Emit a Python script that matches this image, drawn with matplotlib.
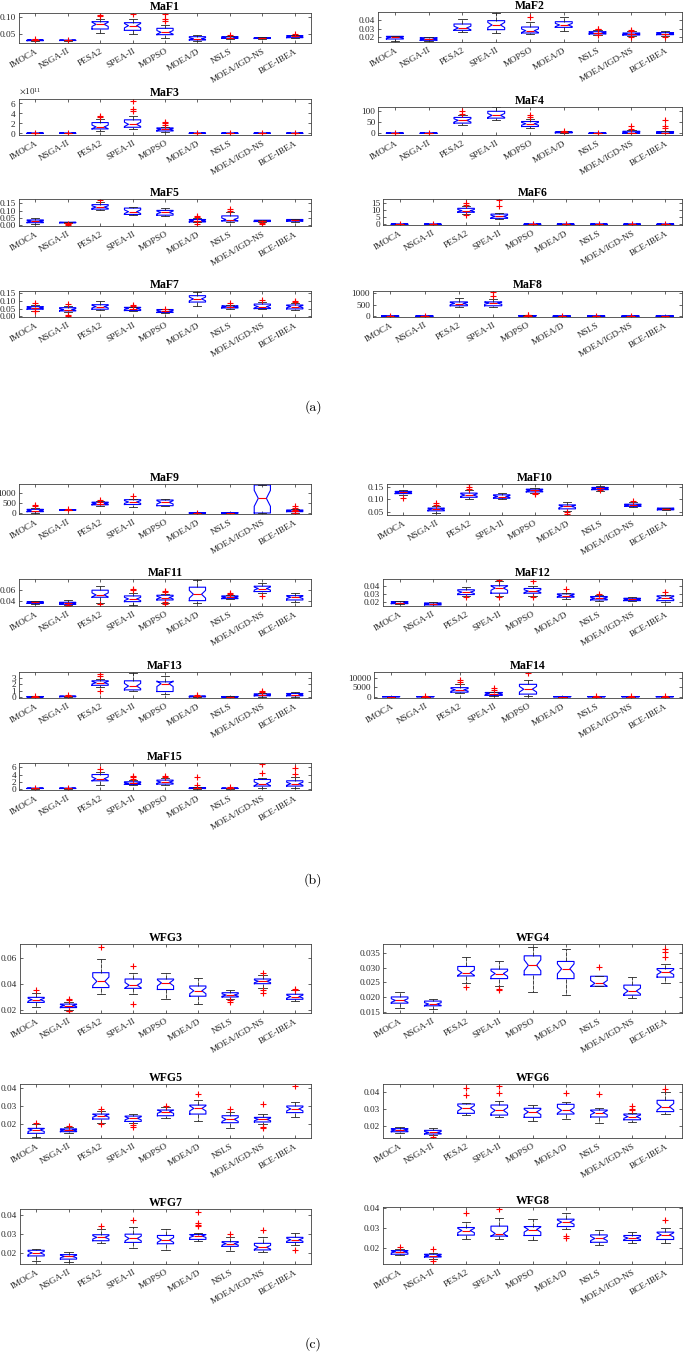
import matplotlib
matplotlib.use('Agg')
import matplotlib.pyplot as plt
import numpy as np

plt.rcParams['font.family'] = ['Liberation Serif', 'DejaVu Serif']
plt.rcParams['mathtext.fontset'] = 'stix'

ALGS = ['IMOCA', 'NSGA-II', 'PESA2', 'SPEA-II', 'MOPSO', 'MOEA/D', 'NSLS',
        'MOEA/IGD-NS', 'BCE-IBEA']
N_RUNS = 30

# each row: (lower whisker, q1, median, q3, upper whisker, [outliers])
MAF1 = [(0.028, 0.029, 0.030, 0.031, 0.032, [0.033]),
        (0.029, 0.0295, 0.030, 0.0305, 0.031, [0.031]),
        (0.053, 0.064, 0.078, 0.086, 0.095, [0.104, 0.106]),
        (0.050, 0.060, 0.074, 0.083, 0.093, [0.110]),
        (0.037, 0.047, 0.054, 0.066, 0.075, [0.088, 0.093, 0.108]),
        (0.027, 0.031, 0.035, 0.041, 0.047, []),
        (0.034, 0.036, 0.038, 0.041, 0.044, [0.047]),
        (0.034, 0.0355, 0.037, 0.038, 0.040, []),
        (0.036, 0.038, 0.042, 0.044, 0.047, [0.049])]
MAF2 = [(0.0158, 0.0181, 0.0200, 0.0211, 0.0219, []),
        (0.0155, 0.0166, 0.0181, 0.0196, 0.0204, []),
        (0.0260, 0.0279, 0.0306, 0.0351, 0.0408, []),
        (0.0249, 0.0287, 0.0340, 0.0389, 0.0475, []),
        (0.0238, 0.0249, 0.0275, 0.0317, 0.0374, [0.043]),
        (0.0275, 0.0313, 0.0340, 0.0377, 0.0430, []),
        (0.0223, 0.0238, 0.0249, 0.0264, 0.0280, [0.0223, 0.0295, 0.0300]),
        (0.0211, 0.0226, 0.0238, 0.0249, 0.0268, [0.0200, 0.0275, 0.0280]),
        (0.0211, 0.0230, 0.0242, 0.0253, 0.0272, [0.0200])]
MAF3_SCALE = 1e11
MAF3 = [(0.0, 0.005, 0.01, 0.02, 0.03, [0.04]),
        (0.0, 0.005, 0.01, 0.02, 0.03, [0.04]),
        (0.54, 0.88, 1.28, 2.15, 2.9, [3.3, 3.43]),
        (0.81, 1.21, 1.8, 2.7, 3.5, [4.5, 4.85, 6.5]),
        (0.2, 0.47, 0.8, 1.08, 1.35, [1.6, 2.0, 2.36]),
        (0.0, 0.005, 0.01, 0.02, 0.03, [0.04]),
        (0.0, 0.005, 0.01, 0.02, 0.03, [0.04]),
        (0.0, 0.005, 0.01, 0.02, 0.03, [0.04]),
        (0.0, 0.005, 0.01, 0.02, 0.03, [0.04])]
MAF4 = [(0.0, 0.2, 0.4, 0.6, 0.8, [1.0]),
        (0.0, 0.2, 0.4, 0.6, 0.8, [1.2]),
        (37, 45, 57, 70, 82, [87, 100]),
        (57, 67, 79, 97, 116, []),
        (25, 30, 42, 52, 63, [72, 79]),
        (0.5, 2, 4.5, 6, 9, [12]),
        (0.0, 0.2, 0.4, 0.6, 0.8, [1.0]),
        (0.3, 0.5, 3, 9, 15, [20, 30]),
        (0.3, 0.5, 3, 7.5, 12, [22, 30, 57])]
MAF5 = [(0.010, 0.016, 0.026, 0.035, 0.045, []),
        (0.014, 0.0155, 0.017, 0.019, 0.020, [0.003, 0.008]),
        (0.103, 0.110, 0.124, 0.141, 0.157, [0.175]),
        (0.068, 0.073, 0.092, 0.117, 0.124, []),
        (0.061, 0.068, 0.087, 0.101, 0.117, []),
        (0.019, 0.021, 0.030, 0.038, 0.045, [0.005, 0.054, 0.063]),
        (0.019, 0.028, 0.038, 0.063, 0.087, [0.100, 0.110]),
        (0.019, 0.024, 0.028, 0.033, 0.036, [0.005, 0.012]),
        (0.022, 0.026, 0.033, 0.038, 0.041, [])]
MAF6 = [(0.05, 0.1, 0.15, 0.2, 0.25, [0.35]),
        (0.05, 0.1, 0.15, 0.2, 0.25, [0.35]),
        (7.3, 8.6, 9.8, 11.4, 13.0, [6.4, 14.0, 15.2]),
        (3.6, 4.3, 5.7, 7.3, 8.0, [12.7, 17.5]),
        (0.05, 0.1, 0.15, 0.2, 0.25, [0.35]),
        (0.05, 0.1, 0.15, 0.2, 0.25, [0.45]),
        (0.05, 0.1, 0.15, 0.2, 0.25, [0.35]),
        (0.05, 0.1, 0.15, 0.2, 0.25, [0.35]),
        (0.05, 0.1, 0.15, 0.2, 0.25, [0.45])]
MAF7 = [(0.0375, 0.046, 0.054, 0.0625, 0.073, [0.032, 0.035, 0.0875]),
        (0.031, 0.035, 0.044, 0.056, 0.069, [0.002, 0.006, 0.077]),
        (0.042, 0.046, 0.0625, 0.075, 0.096, []),
        (0.035, 0.0375, 0.050, 0.058, 0.062, [0.067, 0.073]),
        (0.022, 0.025, 0.033, 0.044, 0.047, [0.050]),
        (0.067, 0.092, 0.112, 0.133, 0.156, []),
        (0.050, 0.054, 0.0625, 0.067, 0.073, [0.083]),
        (0.046, 0.050, 0.0625, 0.079, 0.094, [0.104]),
        (0.042, 0.048, 0.0625, 0.073, 0.083, [0.090, 0.096])]
MAF8 = [(0, 5, 10, 15, 20, [30]),
        (0, 5, 10, 15, 20, [30]),
        (416, 458, 555, 625, 778, []),
        (400, 458, 570, 625, 750, [875, 1055]),
        (5, 15, 25, 35, 45, [55, 60]),
        (0, 5, 10, 15, 20, [25]),
        (0, 5, 10, 15, 20, [25]),
        (0, 5, 10, 15, 20, [25]),
        (0, 5, 10, 15, 20, [])]
MAF9 = [(0, 66, 115, 180, 262, [328, 393]),
        (140, 145, 148, 160, 170, [197]),
        (360, 402, 467, 533, 600, [560, 622]),
        (311, 418, 541, 656, 705, [852]),
        (328, 360, 525, 639, 705, []),
        (0, 2, 4, 6, 8, [10]),
        (0, 2, 4, 6, 8, []),
        (0, 0, 721, 1377, 1377, []),
        (0, 66, 98, 148, 197, [20, 164, 262, 328])]
MAF10 = [(0.118, 0.123, 0.128, 0.132, 0.138, [0.107]),
         (0.046, 0.053, 0.060, 0.064, 0.071, [0.077, 0.084]),
         (0.101, 0.108, 0.117, 0.125, 0.136, [0.140, 0.150, 0.160]),
         (0.101, 0.104, 0.111, 0.118, 0.125, []),
         (0.127, 0.130, 0.136, 0.141, 0.144, [0.123, 0.125]),
         (0.054, 0.061, 0.071, 0.077, 0.088, [0.040, 0.047]),
         (0.135, 0.139, 0.144, 0.148, 0.152, [0.138]),
         (0.068, 0.071, 0.076, 0.080, 0.087, [0.093]),
         (0.056, 0.057, 0.061, 0.064, 0.065, [])]
MAF11 = [(0.034, 0.035, 0.037, 0.038, 0.039, []),
         (0.0315, 0.0333, 0.035, 0.037, 0.0406, [0.031, 0.0321]),
         (0.0364, 0.0461, 0.0503, 0.0588, 0.066, [0.0333]),
         (0.0321, 0.0382, 0.043, 0.0485, 0.0545, [0.0585, 0.0606]),
         (0.0364, 0.0412, 0.0455, 0.0497, 0.0527, [0.0333, 0.038, 0.0555, 0.0576]),
         (0.0364, 0.040, 0.0515, 0.0642, 0.0776, []),
         (0.0424, 0.0436, 0.046, 0.0485, 0.050, [0.0515, 0.0533]),
         (0.0533, 0.0564, 0.0618, 0.066, 0.071, [0.0485]),
         (0.038, 0.0412, 0.046, 0.049, 0.0533, [])]
MAF12 = [(0.0165, 0.0173, 0.0187, 0.0200, 0.0209, []),
         (0.0142, 0.0156, 0.0169, 0.0182, 0.0191, []),
         (0.0276, 0.0293, 0.0324, 0.0356, 0.0391, [0.0258]),
         (0.0280, 0.0311, 0.0378, 0.0409, 0.0467, [0.0267, 0.0480]),
         (0.0280, 0.0311, 0.0338, 0.0373, 0.0400, [0.0262, 0.0476]),
         (0.0240, 0.0258, 0.0280, 0.0302, 0.0320, [0.0364]),
         (0.0210, 0.0222, 0.0244, 0.0267, 0.0284, [0.0302]),
         (0.0205, 0.0213, 0.0230, 0.0244, 0.0260, []),
         (0.0196, 0.0213, 0.0249, 0.0276, 0.0289, [0.0333])]
MAF13 = [(0.0, 0.02, 0.05, 0.08, 0.1, [0.12]),
         (0.0, 0.05, 0.1, 0.15, 0.2, [0.25]),
         (1.54, 1.85, 2.26, 2.56, 2.77, [0.97, 3.33, 3.6]),
         (0.97, 1.13, 1.74, 2.56, 3.85, []),
         (0.5, 0.87, 2.1, 2.4, 3.28, []),
         (0.0, 0.03, 0.1, 0.15, 0.18, [0.2, 0.36]),
         (0.0, 0.02, 0.05, 0.08, 0.1, []),
         (0.05, 0.2, 0.3, 0.51, 0.6, [0.87, 1.02]),
         (0.05, 0.2, 0.4, 0.56, 0.77, [])]
MAF14 = [(0, 20, 50, 80, 100, []),
         (0, 20, 50, 80, 100, [150]),
         (1930, 2450, 3700, 4900, 6670, [8070, 8770]),
         (175, 700, 1580, 2280, 2630, [3680, 4560]),
         (175, 1400, 4040, 6670, 8770, [12980]),
         (0, 20, 50, 80, 100, []),
         (0, 20, 50, 80, 100, [150]),
         (0, 20, 50, 80, 100, [150]),
         (0, 20, 50, 80, 100, [150])]
MAF15 = [(0.0, 0.05, 0.1, 0.15, 0.2, [0.3]),
         (0.0, 0.05, 0.1, 0.15, 0.2, [0.25]),
         (1.12, 2.23, 2.8, 4.0, 4.65, [5.67]),
         (1.0, 1.2, 1.5, 1.95, 2.42, [2.8, 3.35, 3.72]),
         (0.93, 1.3, 1.86, 2.42, 2.98, [3.35, 3.72]),
         (0.0, 0.05, 0.1, 0.28, 0.4, [1.02, 3.26]),
         (0.0, 0.05, 0.1, 0.15, 0.2, [0.47]),
         (0.19, 0.74, 1.4, 2.6, 3.07, [4.47, 6.88]),
         (0.28, 0.74, 1.4, 2.23, 3.26, [4.1, 5.95])]
WFG3 = [(0.0221, 0.0258, 0.0279, 0.0297, 0.0327, [0.0355]),
        (0.0200, 0.0218, 0.0233, 0.0245, 0.0261, [0.0191, 0.0195, 0.0275, 0.0285]),
        (0.0324, 0.0373, 0.0421, 0.0488, 0.0594, [0.069]),
        (0.0321, 0.0367, 0.0391, 0.0439, 0.0485, [0.0248, 0.054]),
        (0.0285, 0.0358, 0.0409, 0.0439, 0.0488, []),
        (0.0242, 0.0306, 0.0348, 0.0385, 0.0445, []),
        (0.0282, 0.0300, 0.0315, 0.0333, 0.0355, [0.0261, 0.0273]),
        (0.0373, 0.0403, 0.0421, 0.0439, 0.0470, [0.0330, 0.0352, 0.0488]),
        (0.0267, 0.0282, 0.0303, 0.0321, 0.0352, [0.0355, 0.0358])]
WFG4 = [(0.0163, 0.0180, 0.0189, 0.0201, 0.0217, []),
        (0.0160, 0.0171, 0.0177, 0.0187, 0.0193, []),
        (0.0249, 0.0272, 0.0283, 0.0304, 0.0335, [0.0236]),
        (0.0237, 0.0263, 0.0280, 0.0295, 0.0321, [0.0225, 0.0229]),
        (0.0217, 0.0276, 0.0308, 0.0340, 0.0370, []),
        (0.0209, 0.0263, 0.0296, 0.0321, 0.0364, []),
        (0.0237, 0.0237, 0.0247, 0.0271, 0.0271, [0.0303]),
        (0.0197, 0.0207, 0.0221, 0.0241, 0.0269, []),
        (0.0247, 0.0268, 0.0285, 0.0297, 0.0311, [0.0336, 0.0354, 0.0364])]
WFG5 = [(0.0133, 0.0151, 0.0169, 0.0178, 0.0200, [0.0205]),
        (0.0151, 0.0160, 0.0169, 0.0175, 0.0187, [0.0193]),
        (0.0209, 0.0229, 0.0247, 0.0256, 0.0275, [0.0202, 0.0282]),
        (0.0210, 0.0216, 0.0233, 0.0245, 0.0256, [0.0187, 0.0196]),
        (0.0236, 0.0247, 0.0269, 0.0278, 0.0296, [0.0302]),
        (0.0218, 0.0256, 0.0287, 0.0305, 0.0333, [0.0365]),
        (0.0178, 0.0209, 0.0227, 0.0247, 0.0267, [0.0282]),
        (0.0202, 0.0213, 0.0227, 0.0238, 0.0255, [0.0178, 0.0187, 0.0309]),
        (0.0238, 0.0264, 0.0284, 0.0300, 0.0324, [0.0409])]
WFG6 = [(0.0160, 0.0169, 0.0179, 0.0187, 0.0194, []),
        (0.0150, 0.0156, 0.0165, 0.0177, 0.0188, [0.0140]),
        (0.0263, 0.0275, 0.0304, 0.0329, 0.0337, [0.0379, 0.0423]),
        (0.0254, 0.0265, 0.0292, 0.0323, 0.0344, [0.0394, 0.0433]),
        (0.0229, 0.0252, 0.0283, 0.0304, 0.0321, []),
        (0.0240, 0.0271, 0.0292, 0.0327, 0.0342, [0.0390]),
        (0.0221, 0.0254, 0.0279, 0.0294, 0.0308, [0.0385]),
        (0.0227, 0.0238, 0.0256, 0.0271, 0.0279, [0.0294, 0.0300, 0.0317]),
        (0.0271, 0.0285, 0.0313, 0.0350, 0.0400, [0.0413])]
WFG7 = [(0.0153, 0.0182, 0.0198, 0.0212, 0.0219, []),
        (0.0151, 0.0165, 0.0179, 0.0189, 0.0202, []),
        (0.0249, 0.0263, 0.0281, 0.0295, 0.0323, [0.0344]),
        (0.0223, 0.0254, 0.0275, 0.0298, 0.0337, [0.0372]),
        (0.0212, 0.0247, 0.0267, 0.0291, 0.0326, []),
        (0.0260, 0.0270, 0.0288, 0.0296, 0.0305, [0.0339, 0.0345, 0.0356, 0.0418]),
        (0.0207, 0.0233, 0.0247, 0.0258, 0.0284, [0.0298]),
        (0.0202, 0.0214, 0.0228, 0.0249, 0.0281, [0.0321]),
        (0.0240, 0.0254, 0.0268, 0.0281, 0.0305, [0.0214])]
WFG8 = [(0.0164, 0.0169, 0.0181, 0.0187, 0.0194, [0.0206]),
        (0.0145, 0.0155, 0.0162, 0.0169, 0.0174, [0.0134, 0.0196]),
        (0.0245, 0.0265, 0.0288, 0.0303, 0.0329, [0.0374]),
        (0.0243, 0.0260, 0.0273, 0.0310, 0.0349, [0.0396]),
        (0.0241, 0.0263, 0.0293, 0.0308, 0.0347, []),
        (0.0298, 0.0308, 0.0330, 0.0345, 0.0377, [0.0251, 0.0261]),
        (0.0214, 0.0229, 0.0248, 0.0266, 0.0292, []),
        (0.0224, 0.0238, 0.0250, 0.0263, 0.0283, []),
        (0.0224, 0.0243, 0.0266, 0.0280, 0.0303, [0.0339])]

W, H = 685, 1360
fig = plt.figure(figsize=(W / 100, H / 100), dpi=100)


def rect(l, r, t, b):
    return [l / W, 1 - b / H, (r - l) / W, (b - t) / H]


# name, data, scale, (left, right, top, bottom) px, ylim, yticks
PANELS = [
    ('MaF1', MAF1, 1, (19, 311, 13, 43), (0.022, 0.112), [0.05, 0.1]),
    ('MaF2', MAF2, 1, (378, 682, 12, 42), (0.0147, 0.0487), [0.02, 0.03, 0.04]),
    ('MaF3', MAF3, MAF3_SCALE, (19, 311, 99, 135), (-0.34e11, 6.87e11), [0, 2e11, 4e11, 6e11]),
    ('MaF4', MAF4, 1, (378, 682, 107, 135), (-7.5, 116), [0, 50, 100]),
    ('MaF5', MAF5, 1, (19, 311, 199, 226), (-0.007, 0.18), [0, 0.05, 0.1, 0.15]),
    ('MaF6', MAF6, 1, (383, 682, 199, 225), (-0.4, 18), [0, 5, 10, 15]),
    ('MaF7', MAF7, 1, (19, 311, 291, 317), (-0.004, 0.163), [0, 0.05, 0.1, 0.15]),
    ('MaF8', MAF8, 1, (373, 682, 291, 317), (-28, 1097), [0, 500, 1000]),
    ('MaF9', MAF9, 1, (19, 311, 484, 514), (-49, 1426), [0, 500, 1000]),
    ('MaF10', MAF10, 1, (387, 682, 484, 515), (0.036, 0.162), [0.05, 0.1, 0.15]),
    ('MaF11', MAF11, 1, (19, 311, 579, 606), (0.0303, 0.079), [0.04, 0.06]),
    ('MaF12', MAF12, 1, (383, 682, 579, 606), (0.0142, 0.0498), [0.02, 0.03, 0.04]),
    ('MaF13', MAF13, 1, (19, 311, 672, 698), (-0.15, 3.95), [0, 1, 2, 3]),
    ('MaF14', MAF14, 1, (374, 682, 672, 698), (-700, 13330), [0, 5000, 10000]),
    ('MaF15', MAF15, 1, (19, 311, 763, 790), (-0.37, 7.25), [0, 2, 4, 6]),
    ('WFG3', WFG3, 1, (20, 311, 944, 1013), (0.0176, 0.071), [0.02, 0.04, 0.06]),
    ('WFG4', WFG4, 1, (383, 682, 944, 1013), (0.01467, 0.038), [0.015, 0.02, 0.025, 0.03, 0.035]),
    ('WFG5', WFG5, 1, (20, 311, 1084, 1138), (0.01255, 0.042), [0.02, 0.03, 0.04]),
    ('WFG6', WFG6, 1, (383, 682, 1084, 1138), (0.0133, 0.0444), [0.02, 0.03, 0.04]),
    ('WFG7', WFG7, 1, (20, 311, 1209, 1264), (0.0139, 0.0432), [0.02, 0.03, 0.04]),
    ('WFG8', WFG8, 1, (383, 682, 1207, 1264), (0.012, 0.0406), [0.02, 0.03, 0.04]),
]

for name, data, scale, box, ylim, yticks in PANELS:
    ax = fig.add_axes(rect(*box))
    stats = []
    for lo, q1, med, q3, hi, fl in data:
        half = 1.57 * (q3 - q1) / np.sqrt(N_RUNS)
        stats.append(dict(whislo=lo * scale, q1=q1 * scale, med=med * scale,
                          q3=q3 * scale, whishi=hi * scale,
                          fliers=[f * scale for f in fl],
                          cilo=(med - half) * scale, cihi=(med + half) * scale))
    ax.bxp(stats, positions=list(range(1, len(ALGS) + 1)), widths=0.5,
           shownotches=True, showfliers=True, capwidths=0.25,
           boxprops=dict(color='#0000ff', lw=0.8),
           medianprops=dict(color='#ff0000', lw=0.8),
           whiskerprops=dict(color='#222222', lw=0.6, ls=(0, (5, 1))),
           capprops=dict(color='#222222', lw=0.6),
           flierprops=dict(marker='+', markeredgecolor='#ff0000',
                           markersize=4, markeredgewidth=0.8, linestyle='none'))
    ax.set_xlim(0.5, len(ALGS) + 0.5)
    ax.set_ylim(*ylim)
    ax.set_yticks(yticks)
    ax.set_xticks(list(range(1, len(ALGS) + 1)))
    ax.set_xticklabels(ALGS, rotation=30, ha='right', rotation_mode='anchor',
                       fontsize=6.7)
    ax.tick_params(axis='both', direction='in', top=True, right=True,
                   length=2.5, width=0.5, labelsize=6.7, colors='#262626')
    ax.tick_params(axis='x', pad=3)
    ax.tick_params(axis='y', pad=2)
    for sp in ax.spines.values():
        sp.set_color('#404040')
        sp.set_linewidth(0.6)
    if scale != 1:
        ax.ticklabel_format(axis='y', style='sci', scilimits=(0, 0),
                            useMathText=True)
        ax.yaxis.get_offset_text().set_fontsize(6.5)
    ax.set_title(name, fontsize=8.5, fontweight='bold', pad=2)

for label, ypx in [('(a)', 407), ('(b)', 880), ('(c)', 1344)]:
    fig.text(313 / W, 1 - ypx / H, label, ha='center', va='center',
             fontsize=10, family='cmr10')

fig.savefig('out.png', dpi=100)
